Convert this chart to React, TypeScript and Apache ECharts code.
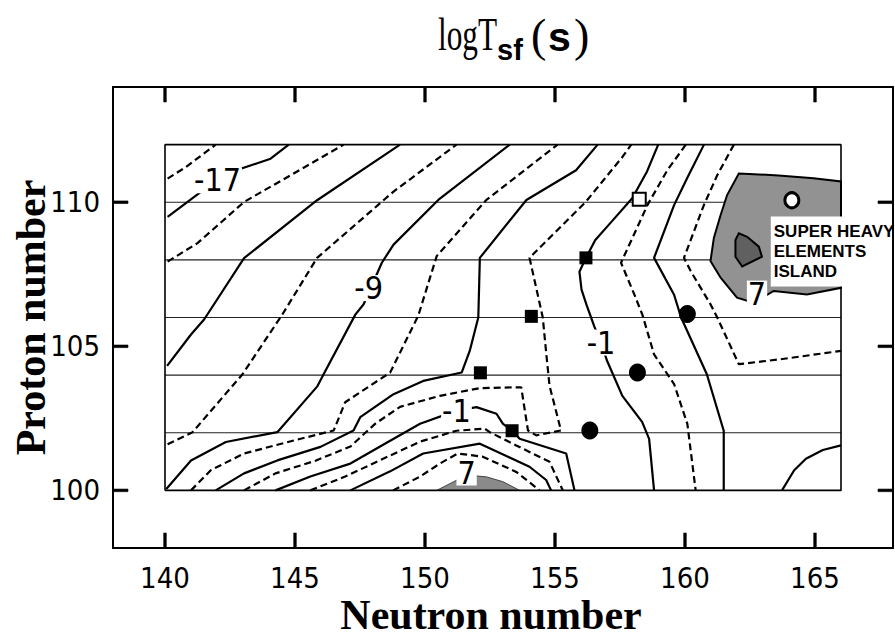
import React, { useEffect, useRef } from "react";
import * as echarts from "echarts";

// ---- axes / frame ----
const xMin = 138, xMax = 168, yMin = 98, yMax = 114;
const xTicks = [140, 145, 150, 155, 160, 165];
const yTicks = [100, 105, 110];
const frameN = [140, 166];
const frameZ = [100, 112];
const gridZ = [102, 104, 106, 108, 110];

// ---- contour lines [N, Z] (level) ----
const cM19 = [[140.1, 110.82], [140.8, 111.22], [141.95, 112]];
const cM17 = [[140.1, 109.49], [141.38, 110.36], [142.91, 111.16], [144.06, 111.51], [144.76, 112]];
const cM15 = [[140.1, 107.94], [141.25, 108.58], [143.04, 110.01], [144.7, 110.87], [146.87, 112]];
const cM13 = [[140.08, 104.32], [141.0, 105.41], [141.51, 105.94], [143.04, 108.06], [145.85, 110.07], [149.04, 112]];
const cM11 = [[140.1, 101.6], [141.06, 102.02], [142.98, 104.03], [144.51, 106.1], [145.85, 108.07], [148.79, 110.37], [151.21, 112]];
const cM9 = [[140.05, 100.05], [141.0, 101.04], [142.34, 101.68], [144.32, 102.02], [145.85, 103.6], [146.1, 104.03], [147.32, 106.1], [147.64, 106.46], [148.34, 107.9], [148.79, 108.53], [150.51, 110.08], [153.26, 112]];
const cM7 = [[141.0, 100], [141.76, 100.7], [143.04, 101.28], [144.95, 101.73], [146.49, 102.08], [146.93, 103.06], [148.66, 104.09], [149.74, 106.06], [150.45, 108.13], [152.36, 110.08], [155.1, 112]];
const cM5 = [[141.95, 100], [143.04, 100.59], [144.32, 101.04], [145.98, 101.51], [147.25, 102.08], [147.51, 102.54], [148.79, 103.34], [149.93, 103.8], [151.41, 104.09], [151.72, 104.84], [152.05, 106.0], [152.11, 108.07], [153.9, 110.08], [155.81, 111.11], [156.64, 112]];
const cM3 = [[143.04, 100], [144.25, 100.59], [145.79, 101.03], [147.13, 101.52], [148.08, 102.31], [149.04, 102.9], [150.57, 103.28], [152.11, 103.55], [153.7, 103.58], [153.83, 102.83], [153.96, 102.08], [154.28, 101.91], [155.23, 102.08], [154.79, 103.63], [154.66, 104.78], [154.53, 106.0], [154.02, 108.07], [156.19, 110.02], [157.6, 111.58], [157.93, 112]];
const cM1a = [[144.25, 100], [145.59, 100.48], [147.13, 100.93], [148.66, 101.72], [149.81, 102.31], [151.19, 102.76], [151.98, 102.89], [152.75, 102.66], [153.0, 102.31], [153.37, 102.07], [153.64, 101.79], [155.43, 101.28], [155.75, 100]];
const cM1b = [[158.97, 112], [158.54, 111.07], [157.97, 110.14], [157.16, 109.31], [156.55, 108.69], [156.19, 108.07], [155.94, 107.59], [156.02, 106.97], [156.21, 106.45], [156.51, 105.69], [156.77, 105.13], [157.01, 104.48], [157.59, 103.28], [158.35, 102.38], [158.62, 101.79], [158.81, 100]];
const cP1a = [[145.59, 100], [146.93, 100.48], [148.66, 101.21], [149.81, 101.69], [151.21, 102.07], [152.3, 102.14], [152.49, 102.02], [153.51, 101.56], [154.79, 100.99], [155.3, 100]];
const cP1b = [[160.03, 112], [159.32, 111.11], [158.56, 109.91], [157.54, 107.9], [158.05, 106.8], [158.36, 106.1], [158.81, 104.72], [159.58, 103.69], [160.09, 102.31], [160.41, 100]];
const cP3a = [[147.13, 100], [148.66, 100.66], [149.93, 101.28], [152.11, 101.62], [153.13, 101.19], [154.02, 100.82], [154.66, 100.36], [154.85, 100]];
const cP3b = [[160.73, 112], [160.08, 110.83], [159.58, 109.9], [158.81, 108.07], [159.58, 106.79], [159.85, 106.0], [160.84, 104.03], [161.49, 102.07], [161.49, 100]];
const cP3c = [[163.73, 100], [164.2, 100.7], [164.65, 101.1], [165.3, 101.4], [166, 101.56]];
const cP5a = [[148.77, 100], [149.81, 100.48], [150.57, 100.93], [151.26, 101.28], [152.22, 101.17], [153.51, 100.64], [154.41, 100]];
const cP5b = [[161.88, 112], [161.24, 110.94], [160.73, 109.91], [159.96, 108.07], [160.22, 107.61], [160.98, 106.46], [161.24, 106.0], [162.07, 104.38], [163.67, 104.55], [166, 104.84]];

// ---- shaded regions (logT > 7) ----
const regionBottom = [[150.45, 100], [151.6, 100.53], [152.36, 100.47], [153.0, 100.3], [153.64, 100]];
const regionIsland = [[162.07, 111.0], [163.6, 110.93], [164.94, 110.83], [166, 110.72], [166, 107.03], [164.69, 106.8], [163.41, 106.92], [162.84, 106.62], [162.39, 106.58], [162.0, 106.69], [161.37, 107.38], [160.98, 107.96], [161.11, 108.76], [161.37, 109.56], [161.62, 110.25]];
const regionCore = [[161.94, 108.69], [162.07, 108.92], [162.39, 108.8], [162.84, 108.46], [162.96, 108.11], [162.2, 107.77], [161.94, 108.11]];

// ---- nuclei markers ----
const squaresFilled = [[152.13, 104.08], [153.35, 102.07], [154.09, 106.04], [156.19, 108.07]];
const squaresOpen = [[158.24, 110.1]];
const circlesFilled = [[156.34, 102.08], [158.17, 104.09], [160.09, 106.12]];
const circlesOpen = [[164.11, 110.07]];

// ---- contour labels ----
const labelN = [142.02, 147.83, 151.21, 156.77, 151.6, 162.77];
const labelZ = [110.76, 107.02, 102.77, 105.13, 100.62, 106.83];
const labelText = ["-17", "-9", "-1", "-1", "7", "7"];

const islandAnchor = [163.28, 108.29];
const islandText = "SUPER HEAVY\nELEMENTS\nISLAND";

const contours = [
  { level: -19, pts: cM19 }, { level: -17, pts: cM17 }, { level: -15, pts: cM15 },
  { level: -13, pts: cM13 }, { level: -11, pts: cM11 }, { level: -9, pts: cM9 },
  { level: -7, pts: cM7 }, { level: -5, pts: cM5 }, { level: -3, pts: cM3 },
  { level: -1, pts: cM1a }, { level: -1, pts: cM1b }, { level: 1, pts: cP1a },
  { level: 1, pts: cP1b }, { level: 3, pts: cP3a }, { level: 3, pts: cP3b },
  { level: 3, pts: cP3c }, { level: 5, pts: cP5a }, { level: 5, pts: cP5b },
];

const NARROW = "'Liberation Sans Narrow', 'DejaVu Sans Condensed', 'Arial Narrow', sans-serif";
const SERIF = "'Liberation Serif', 'Times New Roman', serif";
const SANS = "'Liberation Sans', Arial, sans-serif";

// outer box geometry
const G = { left: 113, top: 87, width: 780, height: 461 };

function buildOption() {
  const axisLine = { show: true, onZero: false, lineStyle: { color: "#000", width: 2 } };
  const hidden = { show: false };
  const series: any[] = [];

  gridZ.forEach((z) => {
    series.push({
      type: "line", data: [[frameN[0], z], [frameN[1], z]], symbol: "none", silent: true, z: 1,
      lineStyle: { color: "#222", width: 1.2 },
    });
  });

  const poly = (pts: number[][], fill: string, stroke: string, lw: number, z: number) => ({
    type: "custom", coordinateSystem: "cartesian2d", data: [0], z, silent: true,
    renderItem: (_p: any, api: any) => ({
      type: "polygon",
      shape: { points: pts.map((p) => api.coord(p)) },
      style: { fill, stroke, lineWidth: lw },
    }),
  });
  series.push(poly(regionBottom, "#8a8a8a", "#444", 1, 2));
  series.push(poly(regionIsland, "#929292", "#000", 2, 2));
  series.push(poly(regionCore, "#606060", "#000", 2, 2));

  contours.forEach((c) => {
    const solid = (c.level + 1) % 4 === 0;
    series.push({
      type: "line", data: c.pts, symbol: "none", silent: true, z: 3,
      lineStyle: { color: "#000", width: 2.2, type: solid ? "solid" : [7, 4] },
    });
  });

  series.push({
    type: "line",
    data: [[frameN[0], frameZ[0]], [frameN[1], frameZ[0]], [frameN[1], frameZ[1]], [frameN[0], frameZ[1]], [frameN[0], frameZ[0]]],
    symbol: "none", silent: true, z: 3, lineStyle: { color: "#000", width: 1.6 },
  });

  // inward ticks on all four sides of the outer box, as thin filled bars placed through the axes
  series.push({
    type: "custom", coordinateSystem: "cartesian2d", data: [0], z: 7, silent: true,
    renderItem: (_p: any, api: any) => {
      const L = 15, W = 1.3;
      const children: any[] = [];
      const bar = (pts: number[][]) => children.push({ type: "polygon", shape: { points: pts }, style: { fill: "#000", stroke: "#000", lineWidth: 0.6 } });
      xTicks.forEach((v) => {
        const b = api.coord([v, yMin]);
        const t = api.coord([v, yMax]);
        bar([[b[0] - W, b[1]], [b[0] + W, b[1]], [b[0] + W, b[1] - L], [b[0] - W, b[1] - L]]);
        bar([[t[0] - W, t[1]], [t[0] + W, t[1]], [t[0] + W, t[1] + L], [t[0] - W, t[1] + L]]);
      });
      yTicks.forEach((v) => {
        const l = api.coord([xMin, v]);
        const r = api.coord([xMax, v]);
        bar([[l[0], l[1] - W], [l[0] + L, l[1] - W], [l[0] + L, l[1] + W], [l[0], l[1] + W]]);
        bar([[r[0], r[1] - W], [r[0] - L, r[1] - W], [r[0] - L, r[1] + W], [r[0], r[1] + W]]);
      });
      return { type: "group", children };
    },
  });

  series.push({ type: "scatter", data: squaresFilled, symbol: "rect", symbolSize: 13, z: 5, itemStyle: { color: "#000", opacity: 1 } });
  series.push({ type: "scatter", data: squaresOpen, symbol: "rect", symbolSize: 13, z: 5, itemStyle: { color: "#fff", borderColor: "#000", borderWidth: 2, opacity: 1 } });
  series.push({ type: "scatter", data: circlesFilled, symbol: "circle", symbolSize: [17, 18], z: 5, itemStyle: { color: "#000", opacity: 1 } });
  series.push({ type: "scatter", data: circlesOpen, symbol: "circle", symbolSize: [14, 15], z: 5, itemStyle: { color: "#fff", borderColor: "#000", borderWidth: 3, opacity: 1 } });

  series.push({
    type: "scatter", z: 8, symbolSize: 1, silent: true,
    itemStyle: { opacity: 0 },
    data: labelN.map((n, i) => ({ value: [n, labelZ[i]], name: labelText[i] })),
    label: {
      show: true, position: "inside", formatter: "{b}", color: "#000", fontFamily: NARROW, fontSize: 32,
      lineHeight: 26, backgroundColor: "#fff", padding: [0, 1], opacity: 1, textBorderWidth: 0,
    },
  });

  series.push({
    type: "scatter", z: 9, symbolSize: 1, silent: true,
    itemStyle: { opacity: 0 },
    data: [{ value: islandAnchor, name: islandText }],
    label: {
      show: true, position: "right", distance: 0, formatter: "{b}", color: "#000",
      fontFamily: SANS, fontWeight: "bold", fontSize: 17, lineHeight: 20, align: "left",
      backgroundColor: "#fff", padding: [5, 4, 5, 3], width: 114, overflow: "none", opacity: 1,
    },
  });

  const t = (text: string, x: number, y: number, font: string, size: number, weight: string, sx = 1) => ({
    type: "text", x, y, scaleX: sx, silent: true,
    style: { text, fill: "#000", fontFamily: font, fontSize: size, fontWeight: weight, verticalAlign: "middle", align: "left" },
  });

  return {
    animation: false,
    backgroundColor: "#fff",
    graphic: [
      t("logT", 438, 35, SERIF, 46, "normal", 0.68),
      t("sf", 497, 50, SANS, 29, "bold"),
      t("(", 531, 35, SERIF, 46, "normal"),
      t("s", 548, 37, SANS, 41, "bold"),
      t(")", 574, 35, SERIF, 46, "normal"),
    ],
    grid: { ...G, containLabel: false, outerBoundsMode: "none" },
    xAxis: [
      {
        type: "value", min: xMin, max: xMax, position: "bottom", axisLine,
        axisTick: hidden,
        axisLabel: { customValues: xTicks, margin: 15, color: "#000", fontSize: 29, fontFamily: NARROW },
        splitLine: hidden,
        name: "Neutron number", nameLocation: "middle", nameGap: 49, nameMoveOverlap: false,
        nameTextStyle: { fontFamily: SERIF, fontWeight: "bold", fontSize: 42, lineHeight: 36, color: "#000", padding: [0, 24, 0, 0] },
      },
      { type: "value", min: xMin, max: xMax, position: "top", axisLine, axisTick: hidden, axisLabel: hidden, splitLine: hidden },
    ],
    yAxis: [
      {
        type: "value", min: yMin, max: yMax, position: "left", axisLine, axisTick: hidden,
        axisLabel: { customValues: yTicks, margin: 13, color: "#000", fontSize: 29, fontFamily: NARROW },
        splitLine: hidden,
        name: "Proton number", nameLocation: "middle", nameGap: 62, nameRotate: 90, nameMoveOverlap: false,
        nameTextStyle: { fontFamily: SERIF, fontWeight: "bold", fontSize: 42, lineHeight: 40, color: "#000" },
      },
      { type: "value", min: yMin, max: yMax, position: "right", axisLine, axisTick: hidden, axisLabel: hidden, splitLine: hidden },
    ],
    series,
  };
}

export default function App() {
  const ref = useRef<HTMLDivElement>(null);
  useEffect(() => {
    const chart = echarts.init(ref.current as HTMLDivElement, null, { renderer: "svg" });
    chart.setOption(buildOption() as any);
    return () => chart.dispose();
  }, []);
  return (
    <div
      ref={ref}
      style={{ position: "fixed", left: 0, top: 0, width: 895, height: 638, background: "#fff" }}
    />
  );
}
